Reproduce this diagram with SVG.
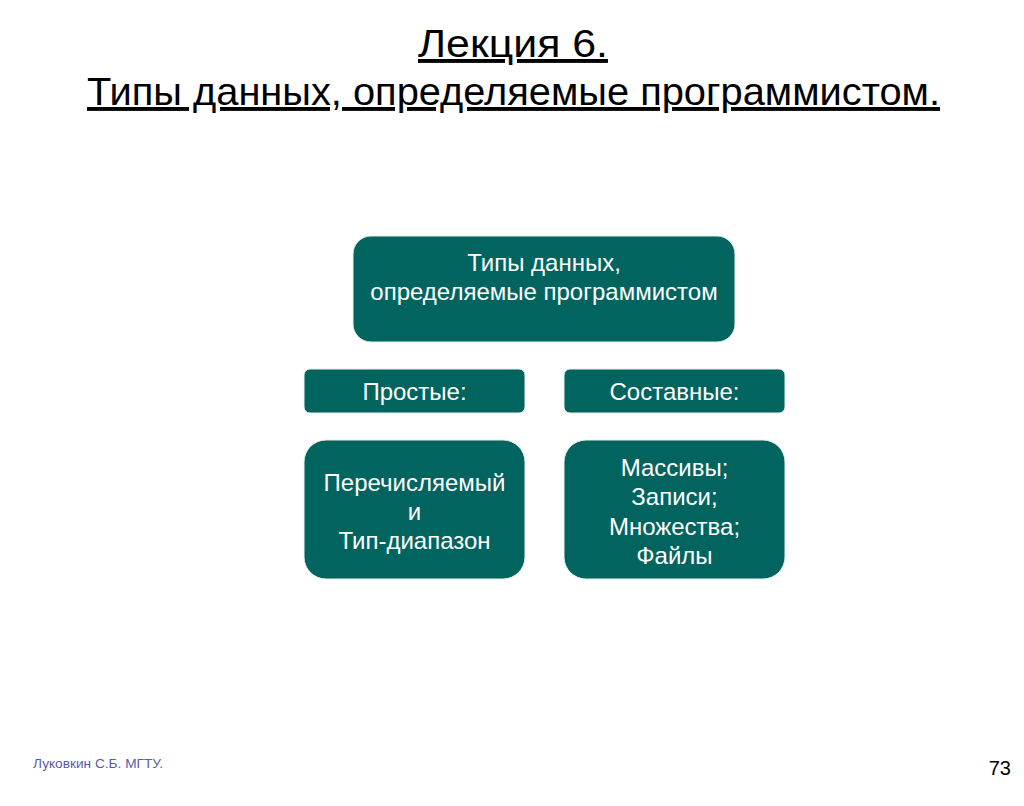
<svg xmlns="http://www.w3.org/2000/svg" width="1024" height="806" viewBox="0 0 1024 806">
<style>
.box{fill:#02645e;stroke:#e6efee;stroke-width:1}
.t{font-family:"Liberation Sans",Arial,sans-serif;font-size:24px;fill:#ffffff;text-anchor:middle}
.title{font-family:"Liberation Sans",Arial,sans-serif;font-size:39px;fill:#000000;text-decoration:underline}
</style>
<rect width="1024" height="806" fill="#ffffff"/>
<g id="title">
<text class="title" x="418" y="57" textLength="190" lengthAdjust="spacingAndGlyphs">Лекция 6. </text>
<text class="title" x="87" y="105" textLength="853" lengthAdjust="spacingAndGlyphs">Типы данных, определяемые программистом.</text>
</g>
<g id="connectors"></g>
<g id="root">
<rect class="box" x="353" y="236" width="382" height="106" rx="18"/>
<text class="t" x="544" y="271">Типы данных,</text>
<text class="t" x="544" y="300">определяемые программистом</text>
</g>
<g id="simple">
<rect class="box" x="304" y="369" width="221" height="44" rx="6"/>
<text class="t" x="414.5" y="400">Простые:</text>
</g>
<g id="composite">
<rect class="box" x="564" y="369" width="221" height="44" rx="6"/>
<text class="t" x="674.5" y="400">Составные:</text>
</g>
<g id="simple-list">
<rect class="box" x="304" y="440" width="221" height="139" rx="22"/>
<text class="t" x="414.5" y="491">Перечисляемый</text>
<text class="t" x="414.5" y="520">и</text>
<text class="t" x="414.5" y="549">Тип-диапазон</text>
</g>
<g id="composite-list">
<rect class="box" x="564" y="440" width="221" height="139" rx="22"/>
<text class="t" x="674.5" y="476">Массивы;</text>
<text class="t" x="674.5" y="505">Записи;</text>
<text class="t" x="674.5" y="535">Множества;</text>
<text class="t" x="674.5" y="564">Файлы</text>
</g>
<g id="footer">
<text x="33" y="768" font-family="Liberation Sans,Arial,sans-serif" font-size="13" fill="#5a5aa8" textLength="130" lengthAdjust="spacingAndGlyphs">Луковкин С.Б. МГТУ.</text>
<text x="1011" y="775" font-family="Liberation Sans,Arial,sans-serif" font-size="20" fill="#000000" text-anchor="end">73</text>
</g>
</svg>
